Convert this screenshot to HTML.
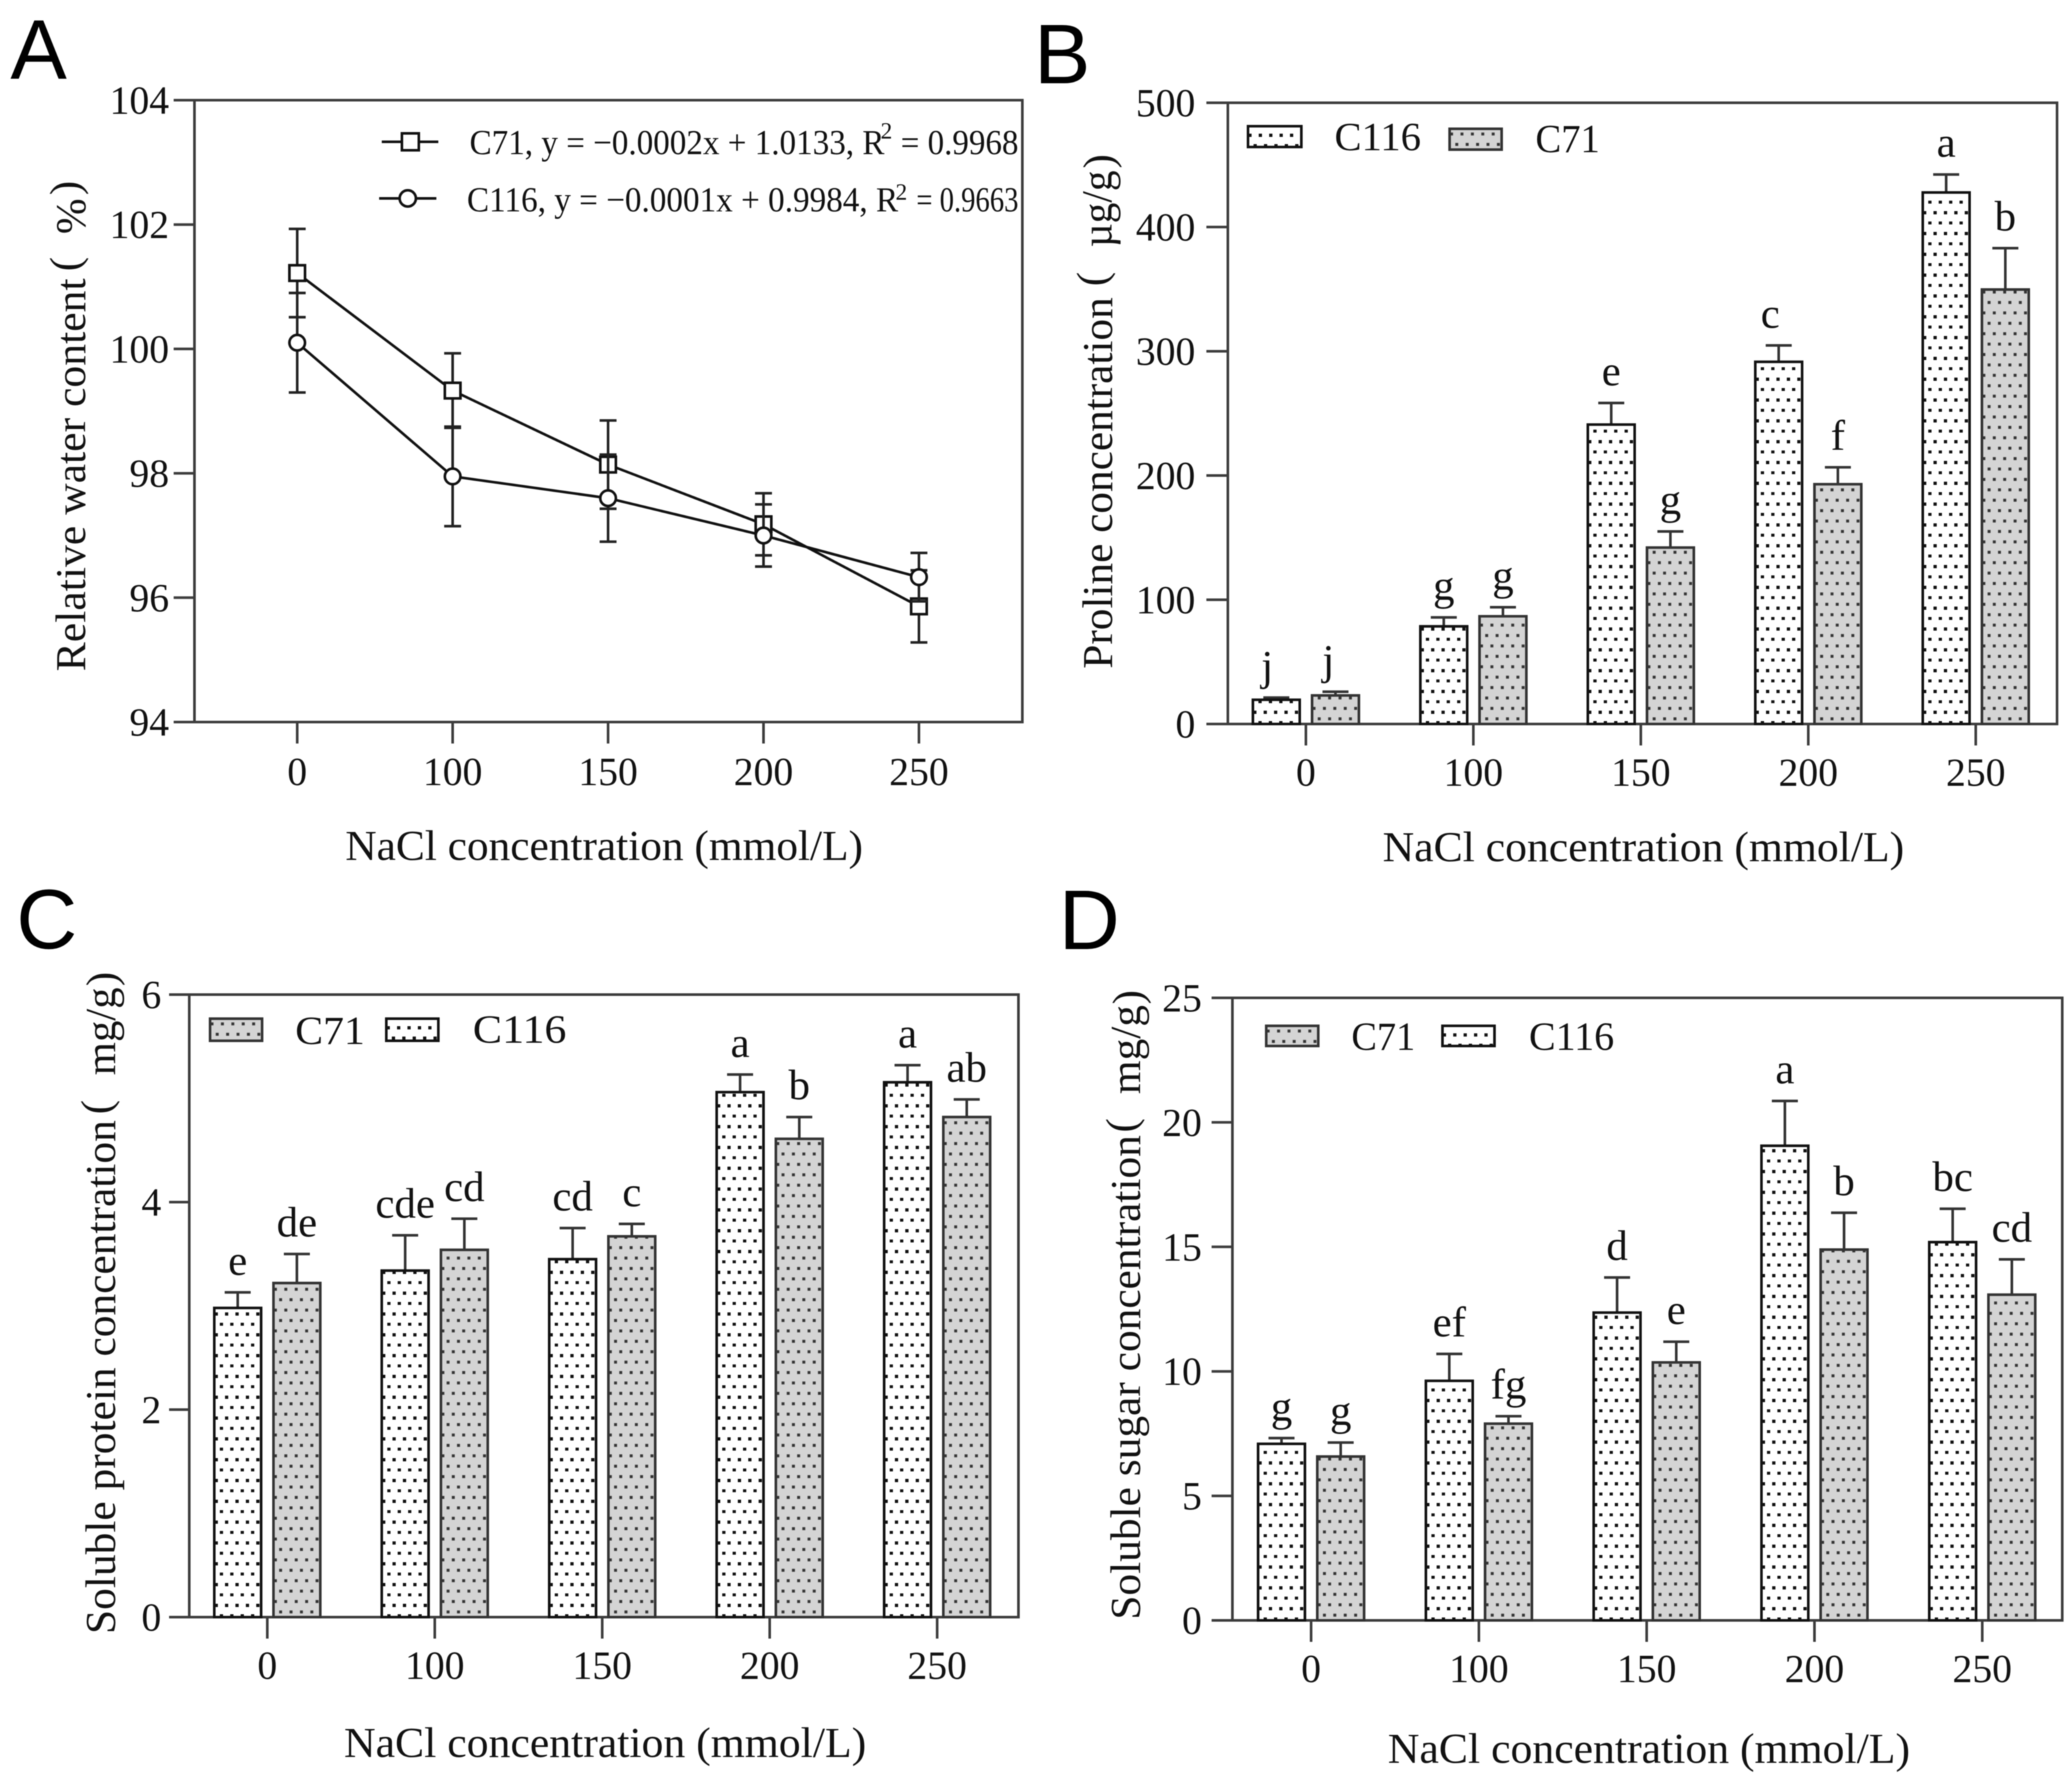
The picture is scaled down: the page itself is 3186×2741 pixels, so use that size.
<!DOCTYPE html>
<html lang="en">
<head>
<meta charset="utf-8">
<title>NaCl response panels</title>
<style>
html,body{margin:0;padding:0;background:#fff;}
svg{display:block;filter:blur(0.7px);}
text{font-family:"Liberation Serif","Noto Serif CJK SC",serif;fill:#111;white-space:pre;}
.letter{font-family:"Liberation Sans",sans-serif;font-size:130px;fill:#000;}
.title{font-size:66px;}
.leg{font-size:61px;}
.eq{font-size:54px;}
.sup{font-size:36px;}
.frame{fill:none;stroke:#3c3c3c;stroke-width:4;}
</style>
</head>
<body>
<svg id="fig" xmlns="http://www.w3.org/2000/svg" width="3186" height="2741" viewBox="0 0 3186 2741">
<defs>
<pattern id="dotsWhite" patternUnits="userSpaceOnUse" width="16" height="32">
<rect width="16" height="32" fill="#fff"/>
<rect x="8.5" y="27.5" width="5" height="5" fill="#111"/>
<rect x="0.5" y="11.5" width="5" height="5" fill="#111"/>
</pattern>
<pattern id="dotsGrey" patternUnits="userSpaceOnUse" width="16" height="32">
<rect width="16" height="32" fill="#d4d4d4"/>
<rect x="8.75" y="21.75" width="4.5" height="4.5" fill="#333"/>
<rect x="0.75" y="5.75" width="4.5" height="4.5" fill="#333"/>
</pattern>
</defs>
<rect width="3186" height="2741" fill="#fff"/>

<text class="letter" x="16" y="121">A</text>
<text class="letter" x="1590" y="128">B</text>
<text class="letter" x="25" y="1458">C</text>
<text class="letter" x="1628" y="1459">D</text>

<rect class="frame" x="299" y="154" width="1273" height="956"/>
<rect class="frame" x="1888" y="158" width="1275" height="955"/>
<rect class="frame" x="291" y="1529" width="1275" height="957"/>
<rect class="frame" x="1895" y="1534" width="1276" height="957"/>

<text class="title" x="531" y="1322" textLength="796" lengthAdjust="spacingAndGlyphs">NaCl concentration (mmol/L)</text>
<text class="title" x="2126" y="1324" textLength="802" lengthAdjust="spacingAndGlyphs">NaCl concentration (mmol/L)</text>
<text class="title" x="529" y="2701" textLength="803" lengthAdjust="spacingAndGlyphs">NaCl concentration (mmol/L)</text>
<text class="title" x="2134" y="2710" textLength="803" lengthAdjust="spacingAndGlyphs">NaCl concentration (mmol/L)</text>

<g>
<text class="title" transform="translate(131 1032) rotate(-90)" textLength="604" lengthAdjust="spacingAndGlyphs">Relative water content</text>
<text class="title" transform="translate(122 417) rotate(-90)">(</text>
<text class="title" transform="translate(131 360) rotate(-90)" textLength="55" lengthAdjust="spacingAndGlyphs">%</text>
<text class="title" transform="translate(122 300) rotate(-90)">)</text>
</g>
<g>
<text class="title" transform="translate(1710 1028) rotate(-90)" textLength="571" lengthAdjust="spacingAndGlyphs">Proline concentration</text>
<text class="title" transform="translate(1701 440) rotate(-90)">(</text>
<text class="title" transform="translate(1709 380) rotate(-90)" textLength="118" lengthAdjust="spacingAndGlyphs">µg/g</text>
<text class="title" transform="translate(1711 259) rotate(-90)">)</text>
</g>
<g>
<text class="title" transform="translate(177 2512) rotate(-90)" textLength="790" lengthAdjust="spacingAndGlyphs">Soluble protein concentration</text>
<text class="title" transform="translate(170 1713) rotate(-90)">(</text>
<text class="title" transform="translate(177 1653) rotate(-90)" textLength="135" lengthAdjust="spacingAndGlyphs">mg/g</text>
<text class="title" transform="translate(178 1516) rotate(-90)">)</text>
</g>
<g>
<text class="title" transform="translate(1753 2490) rotate(-90)" textLength="745" lengthAdjust="spacingAndGlyphs">Soluble sugar concentration</text>
<text class="title" transform="translate(1746 1741) rotate(-90)">(</text>
<text class="title" transform="translate(1753 1682) rotate(-90)" textLength="137" lengthAdjust="spacingAndGlyphs">mg/g</text>
<text class="title" transform="translate(1756 1544) rotate(-90)">)</text>
</g>

<g>
<line x1="587" y1="218" x2="674" y2="218" stroke="#111" stroke-width="4"/>
<rect x="618" y="205" width="26" height="26" fill="#fff" stroke="#111" stroke-width="4"/>
<text class="eq" x="722" y="237" textLength="638" lengthAdjust="spacingAndGlyphs">C71, y = −0.0002x + 1.0133, R</text>
<text class="sup" x="1354" y="213">2</text>
<text class="eq" x="1385" y="237" textLength="181" lengthAdjust="spacingAndGlyphs">= 0.9968</text>
<line x1="583" y1="305" x2="671" y2="305" stroke="#111" stroke-width="4"/>
<circle cx="627" cy="305" r="12.5" fill="#fff" stroke="#111" stroke-width="4"/>
<text class="eq" x="718" y="325" textLength="663" lengthAdjust="spacingAndGlyphs">C116, y = −0.0001x + 0.9984, R</text>
<text class="sup" x="1377" y="307">2</text>
<text class="eq" x="1409" y="325" textLength="157" lengthAdjust="spacingAndGlyphs">= 0.9663</text>
</g>

<g>
<rect transform="translate(1919 194)" width="82" height="32" fill="url(#dotsWhite)" stroke="#111" stroke-width="4"/>
<text class="leg" x="2052" y="231" textLength="133" lengthAdjust="spacingAndGlyphs">C116</text>
<rect transform="translate(2229 198)" width="80" height="32" fill="url(#dotsGrey)" stroke="#333" stroke-width="4"/>
<text class="leg" x="2361" y="234" textLength="99" lengthAdjust="spacingAndGlyphs">C71</text>
</g>
<g>
<rect transform="translate(323 1566)" width="80" height="34" fill="url(#dotsGrey)" stroke="#333" stroke-width="4"/>
<text class="leg" x="454" y="1605" textLength="107" lengthAdjust="spacingAndGlyphs">C71</text>
<rect transform="translate(594 1566)" width="80" height="34" fill="url(#dotsWhite)" stroke="#111" stroke-width="4"/>
<text class="leg" x="727" y="1603" textLength="144" lengthAdjust="spacingAndGlyphs">C116</text>
</g>
<g>
<rect transform="translate(1947 1577)" width="80" height="31" fill="url(#dotsGrey)" stroke="#333" stroke-width="4"/>
<text class="leg" x="2078" y="1614" textLength="98" lengthAdjust="spacingAndGlyphs">C71</text>
<rect transform="translate(2218 1577)" width="80" height="31" fill="url(#dotsWhite)" stroke="#111" stroke-width="4"/>
<text class="leg" x="2351" y="1614" textLength="131" lengthAdjust="spacingAndGlyphs">C116</text>
</g>
</svg>

<script>
// Shared category labels
const categories = ['0', '100', '150', '200', '250'];

// Panel A: relative water content (%)
const aTicks = [94, 96, 98, 100, 102, 104];
const aC71 = [101.22, 99.33, 98.14, 97.18, 95.86];
const aC71Err = [0.71, 0.6, 0.71, 0.5, 0.58];
const aC116 = [100.1, 97.95, 97.6, 97.0, 96.33];
const aC116Err = [0.8, 0.8, 0.7, 0.5, 0.39];

// Panel B: proline concentration (ug/g)
const bTicks = [0, 100, 200, 300, 400, 500];
const bC116 = [19.5, 78.6, 241, 291.5, 427.8];
const bC116Err = [1.8, 7.2, 17.4, 13.2, 14.5];
const bC116Letters = ['j', 'g', 'e', 'c', 'a'];
const bC71 = [23, 86.7, 142, 193, 349.7];
const bC71Err = [3, 7.3, 13, 13.6, 33.3];
const bC71Letters = ['j', 'g', 'g', 'f', 'b'];

// Panel C: soluble protein concentration (mg/g)
const cTicks = [0, 2, 4, 6];
const cC116 = [2.98, 3.34, 3.45, 5.06, 5.155];
const cC116Err = [0.15, 0.34, 0.3, 0.17, 0.165];
const cC116Letters = ['e', 'cde', 'cd', 'a', 'a'];
const cC71 = [3.22, 3.54, 3.67, 4.61, 4.82];
const cC71Err = [0.28, 0.3, 0.12, 0.21, 0.17];
const cC71Letters = ['de', 'cd', 'c', 'b', 'ab'];

// Panel D: soluble sugar concentration (mg/g)
const dTicks = [0, 5, 10, 15, 20, 25];
const dC116 = [7.09, 9.62, 12.36, 19.06, 15.19];
const dC116Err = [0.23, 1.08, 1.41, 1.8, 1.34];
const dC116Letters = ['g', 'ef', 'd', 'a', 'bc'];
const dC71 = [6.58, 7.9, 10.36, 14.89, 13.08];
const dC71Err = [0.56, 0.3, 0.83, 1.48, 1.42];
const dC71Letters = ['g', 'fg', 'e', 'b', 'cd'];

const NS = 'http://www.w3.org/2000/svg';
const fig = document.getElementById('fig');

// Small layout tweaks for significance letters sitting off-centre in panel B
function letterNudge(id, series, i) {
  if (id === 'b' && series === 'c116' && i === 0) return -14;
  if (id === 'b' && series === 'c116' && i === 3) return -13;
  if (id === 'b' && series === 'c71' && i === 0) return -11;
  return 0;
}

function make(tag, attrs, parent) {
  const e = document.createElementNS(NS, tag);
  for (const k in attrs) e.setAttribute(k, attrs[k]);
  parent.appendChild(e);
  return e;
}

function linearY(domainMin, domainMax, bottom, top) {
  return function (v) { return bottom + (v - domainMin) / (domainMax - domainMin) * (top - bottom); };
}

function bandX(first, step) {
  return function (i) { return first + i * step; };
}

function drawAxes(id, ticks, yOf, xOf, left, bottom, tickLeft, labelRight, labelBaseline) {
  const g = make('g', {}, fig);
  
  
  ticks.forEach(function (t) {
    const y = yOf(t);
    const tick = make('line', { x1: tickLeft, x2: left, y1: y, y2: y, stroke: '#3c3c3c', 'stroke-width': 4 }, g);
    
    
    const label = make('text', { x: labelRight, y: y + 21, 'text-anchor': 'end', 'font-size': 61 }, g);
    
    
    label.textContent = String(t);
  });
  categories.forEach(function (c, i) {
    const x = xOf(i);
    const tick = make('line', { x1: x, x2: x, y1: bottom, y2: bottom + 33, stroke: '#3c3c3c', 'stroke-width': 4 }, g);
    
    
    const label = make('text', { x: x, y: labelBaseline, 'text-anchor': 'middle', 'font-size': 61 }, g);
    
    
    label.textContent = c;
  });
}

function drawBars(id, series, values, errs, letters, yOf, xOf, offset, fill, stroke) {
  const barWidth = 72;
  const g = make('g', {}, fig);
  
  
  values.forEach(function (v, i) {
    const cx = xOf(i) + offset;
    const base = yOf(0);
    const top = yOf(v);
    const errTop = yOf(v + errs[i]);
    const stem = make('line', { x1: cx, x2: cx, y1: top, y2: errTop, stroke: '#333', 'stroke-width': 4 }, g);
    
    
    const cap = make('line', { x1: cx - 20, x2: cx + 20, y1: errTop, y2: errTop, stroke: '#333', 'stroke-width': 4 }, g);
    
    
    const bar = make('rect', {
      transform: 'translate(' + (cx - barWidth / 2) + ' ' + base + ')',
      x: 0, y: top - base, width: barWidth, height: base - top,
      fill: fill, stroke: stroke, 'stroke-width': 4
    }, g);
    
    
    const sig = make('text', { x: cx + letterNudge(id, series, i), y: errTop - 27, 'text-anchor': 'middle', 'font-size': 66 }, g);
    
    
    sig.textContent = letters[i];
  });
}

function drawLine(id, values, errs, yOf, xOf, marker) {
  const g = make('g', {}, fig);
  
  
  values.forEach(function (v, i) {
    const x = xOf(i);
    const hi = yOf(v + errs[i]);
    const lo = yOf(v - errs[i]);
    const stem = make('line', { x1: x, x2: x, y1: hi, y2: lo, stroke: '#222', 'stroke-width': 4 }, g);
    
    
    [hi, lo].forEach(function (y) {
      const cap = make('line', { x1: x - 13, x2: x + 13, y1: y, y2: y, stroke: '#222', 'stroke-width': 4 }, g);
      
      
    });
  });
  const pts = values.map(function (v, i) { return xOf(i) + ',' + yOf(v); }).join(' ');
  const line = make('polyline', { points: pts, fill: 'none', stroke: '#111', 'stroke-width': 4 }, g);
  
  
  values.forEach(function (v, i) {
    const x = xOf(i);
    const y = yOf(v);
    let m;
    if (marker === 'square') {
      m = make('rect', { x: x - 12, y: y - 12, width: 24, height: 24, fill: '#fff', stroke: '#111', 'stroke-width': 4 }, g);
    } else {
      m = make('circle', { cx: x, cy: y, r: 12, fill: '#fff', stroke: '#111', 'stroke-width': 4 }, g);
    }
    
    
  });
}

// Panel A
const yA = linearY(94, 104, 1110, 154);
const xA = bandX(457, 239);
drawAxes('a', aTicks, yA, xA, 299, 1110, 267, 260, 1207);
drawLine('c71', aC71, aC71Err, yA, xA, 'square');
drawLine('c116', aC116, aC116Err, yA, xA, 'circle');

// Panel B
const yB = linearY(0, 500, 1113, 158);
const xB = bandX(2008, 257.5);
drawAxes('b', bTicks, yB, xB, 1888, 1113, 1855, 1838, 1208);
drawBars('b', 'c116', bC116, bC116Err, bC116Letters, yB, xB, -45.5, 'url(#dotsWhite)', '#111');
drawBars('b', 'c71', bC71, bC71Err, bC71Letters, yB, xB, 45.5, 'url(#dotsGrey)', '#333');

// Panel C
const yC = linearY(0, 6, 2486, 1529);
const xC = bandX(411, 257.5);
drawAxes('c', cTicks, yC, xC, 291, 2486, 260, 248, 2581);
drawBars('c', 'c116', cC116, cC116Err, cC116Letters, yC, xC, -45.5, 'url(#dotsWhite)', '#111');
drawBars('c', 'c71', cC71, cC71Err, cC71Letters, yC, xC, 45.5, 'url(#dotsGrey)', '#333');

// Panel D
const yD = linearY(0, 25, 2491, 1534);
const xD = bandX(2016, 258);
drawAxes('d', dTicks, yD, xD, 1895, 2491, 1863, 1848, 2586);
drawBars('d', 'c116', dC116, dC116Err, dC116Letters, yD, xD, -45.5, 'url(#dotsWhite)', '#111');
drawBars('d', 'c71', dC71, dC71Err, dC71Letters, yD, xD, 45.5, 'url(#dotsGrey)', '#333');
</script>
</body>
</html>
